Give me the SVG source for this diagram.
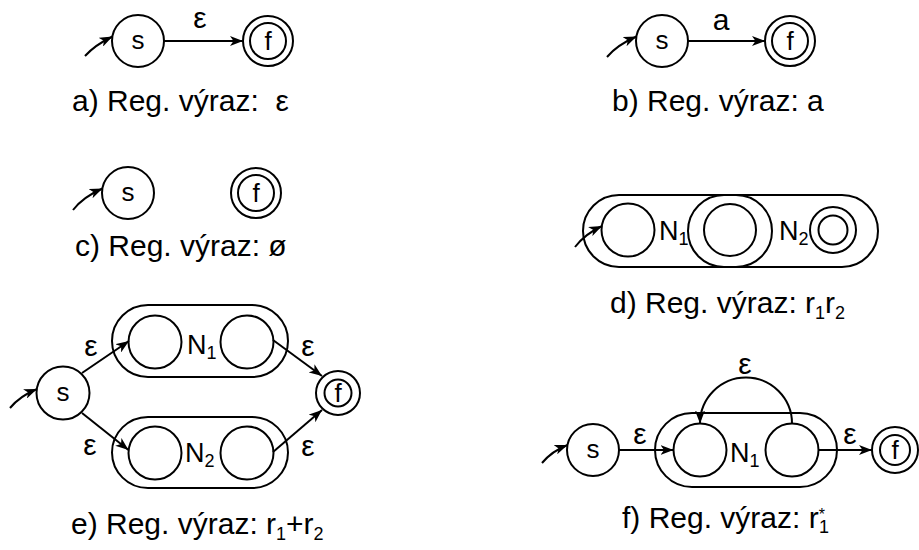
<svg xmlns="http://www.w3.org/2000/svg" width="919" height="550" viewBox="0 0 919 550">
<style>
.st{fill:none;stroke:#000;stroke-width:2}
.ln{fill:none;stroke:#000;stroke-width:2}
.lb{font-family:"Liberation Sans",Arial,sans-serif;font-size:26px;fill:#000;text-anchor:middle}
.nl{font-family:"Liberation Sans",Arial,sans-serif;font-size:27px;fill:#000}
.eps{font-family:"Liberation Sans",Arial,sans-serif;font-size:30px;fill:#000;text-anchor:middle}
.cap{font-family:"Liberation Sans",Arial,sans-serif;font-size:30px;fill:#000}
.sub{font-size:18px}
</style>
<defs>
<marker id="ah" viewBox="0 0 13 10" refX="13" refY="5" markerWidth="13" markerHeight="10" markerUnits="userSpaceOnUse" orient="auto">
<path d="M0,0 L13,5 L0,10 L3.5,5 Z" fill="#000"/>
</marker>
</defs>
<rect width="919" height="550" fill="#fff"/>

<!-- a -->
<g id="a-s"><circle class="st" cx="138" cy="41" r="26"/><text class="lb" x="138" y="49">s</text></g>
<g id="a-f"><circle class="st" cx="268" cy="41" r="25"/><circle class="st" cx="268" cy="41" r="18"/><text class="lb" x="268" y="50">f</text></g>
<!-- b -->
<g id="b-s"><circle class="st" cx="662" cy="41" r="26"/><text class="lb" x="662" y="49">s</text></g>
<g id="b-f"><circle class="st" cx="790" cy="41" r="25"/><circle class="st" cx="790" cy="41" r="18"/><text class="lb" x="790" y="50">f</text></g>
<!-- c -->
<g id="c-s"><circle class="st" cx="128" cy="193" r="26"/><text class="lb" x="128" y="201">s</text></g>
<g id="c-f"><circle class="st" cx="256" cy="193" r="25"/><circle class="st" cx="256" cy="193" r="18"/><text class="lb" x="256" y="202">f</text></g>
<!-- d -->
<g id="d-outer"><rect class="st" x="583" y="195" width="295" height="72" rx="36"/></g>
<g id="d-mid"><rect class="st" x="688" y="195" width="84" height="72" rx="36"/></g>
<g id="d-q1"><circle class="st" cx="628" cy="230" r="26.5"/></g>
<g id="d-q2"><circle class="st" cx="730" cy="230" r="26"/></g>
<g id="d-q3"><circle class="st" cx="833" cy="230" r="23"/><circle class="st" cx="833" cy="230" r="14.5"/></g>
<text class="nl" x="659" y="240">N<tspan class="sub" dy="5">1</tspan></text>
<text class="nl" x="779" y="240">N<tspan class="sub" dy="5">2</tspan></text>
<!-- e -->
<g id="e-s"><circle class="st" cx="63" cy="393" r="26.5"/><text class="lb" x="63" y="401">s</text></g>
<g id="e-n1"><rect class="st" x="112" y="305" width="176" height="72" rx="36"/><circle class="st" cx="155" cy="342" r="26.5"/><circle class="st" cx="247" cy="342" r="26.5"/><text class="nl" x="187" y="354">N<tspan class="sub" dy="5">1</tspan></text></g>
<g id="e-n2"><rect class="st" x="112" y="417" width="176" height="71" rx="36"/><circle class="st" cx="155" cy="453" r="26.5"/><circle class="st" cx="247" cy="453" r="26.5"/><text class="nl" x="185" y="462">N<tspan class="sub" dy="5">2</tspan></text></g>
<g id="e-f"><circle class="st" cx="338" cy="393" r="22"/><circle class="st" cx="338" cy="393" r="13.5"/><text class="lb" x="338" y="402">f</text></g>
<!-- f -->
<g id="f-s"><circle class="st" cx="593" cy="450" r="26"/><text class="lb" x="593" y="458">s</text></g>
<g id="f-n1"><rect class="st" x="655" y="413" width="182" height="74" rx="37"/><circle class="st" cx="700" cy="450" r="26.5"/><circle class="st" cx="792" cy="450" r="26.5"/><text class="nl" x="730" y="462">N<tspan class="sub" dy="5">1</tspan></text></g>
<g id="f-f"><circle class="st" cx="895" cy="450" r="23"/><circle class="st" cx="895" cy="450" r="15"/><text class="lb" x="895" y="459">f</text></g>

<g id="connectors">
<path class="ln" d="M85 56 Q95 45 112.5 36.5" marker-end="url(#ah)"/>
<line class="ln" x1="164" y1="41" x2="243" y2="41" marker-end="url(#ah)"/>
<path class="ln" d="M607 57 Q617 45 636.5 36.5" marker-end="url(#ah)"/>
<line class="ln" x1="688" y1="41" x2="765" y2="41" marker-end="url(#ah)"/>
<path class="ln" d="M73 210 Q83 197 102.5 188.5" marker-end="url(#ah)"/>
<path class="ln" d="M575 247 Q585 234 602 226" marker-end="url(#ah)"/>
<path class="ln" d="M10 408 Q20 396 37 389" marker-end="url(#ah)"/>
<line class="ln" x1="82" y1="373" x2="129" y2="341" marker-end="url(#ah)"/>
<line class="ln" x1="82" y1="413" x2="128.5" y2="450" marker-end="url(#ah)"/>
<line class="ln" x1="273" y1="340" x2="322" y2="376" marker-end="url(#ah)"/>
<line class="ln" x1="273" y1="452" x2="322" y2="410" marker-end="url(#ah)"/>
<path class="ln" d="M542 463 Q552 451 567.5 445" marker-end="url(#ah)"/>
<line class="ln" x1="619" y1="450" x2="673.5" y2="450" marker-end="url(#ah)"/>
<line class="ln" x1="818.5" y1="450" x2="872" y2="450" marker-end="url(#ah)"/>
<path class="ln" d="M792 423.5 A46 46 0 0 0 700 423.5" marker-end="url(#ah)"/>
</g>

<g id="labels">
<text class="eps" x="200" y="28">ε</text>
<text class="eps" x="721" y="30">a</text>
<text class="eps" x="91" y="356">ε</text>
<text class="eps" x="90" y="455">ε</text>
<text class="eps" x="308" y="356">ε</text>
<text class="eps" x="308" y="456">ε</text>
<text class="eps" x="745" y="374">ε</text>
<text class="eps" x="640" y="444">ε</text>
<text class="eps" x="850" y="444">ε</text>
</g>

<g id="captions">
<text class="cap" x="72" y="111" xml:space="preserve">a) Reg. výraz:  ε</text>
<text class="cap" x="612" y="111">b) Reg. výraz: a</text>
<text class="cap" x="75" y="256">c) Reg. výraz: ø</text>
<text class="cap" x="610" y="313">d) Reg. výraz: r<tspan class="sub" dy="6">1</tspan><tspan dy="-6">r</tspan><tspan class="sub" dy="6">2</tspan></text>
<text class="cap" x="71" y="534">e) Reg. výraz: r<tspan class="sub" dy="6">1</tspan><tspan dy="-6">+r</tspan><tspan class="sub" dy="6">2</tspan></text>
<text class="cap" x="622" y="528">f) Reg. výraz: r<tspan style="font-size:16px" dy="-8">*</tspan><tspan class="sub" dx="-6" dy="13">1</tspan></text>
</g>
</svg>
